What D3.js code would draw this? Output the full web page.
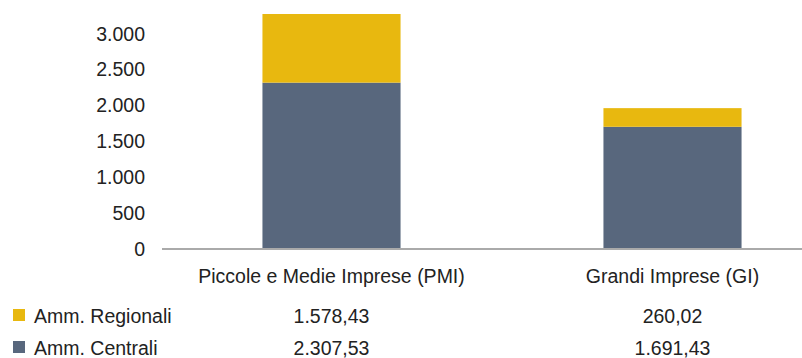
<!DOCTYPE html>
<html>
<head>
<meta charset="utf-8">
<script src="https://cdn.jsdelivr.net/npm/d3@7"></script>
<style>
html, body { margin: 0; padding: 0; background: #fff; }
svg { display: block; font-family: "Liberation Sans", Arial, Helvetica, sans-serif; }
</style>
</head>
<body>
<svg id="chart" width="802" height="358"></svg>
<script>
const categories = ["Piccole e Medie Imprese (PMI)", "Grandi Imprese (GI)"];
const seriesNames = ["Amm. Centrali", "Amm. Regionali"];
const ammCentrali = [2307.53, 1691.43];
const ammRegionali = [1578.43, 260.02];
const ammCentraliLabels = ["2.307,53", "1.691,43"];
const ammRegionaliLabels = ["1.578,43", "260,02"];
const yTicks = [0, 500, 1000, 1500, 2000, 2500, 3000];
const colors = { "Amm. Centrali": "#58677d", "Amm. Regionali": "#e8b80f" };

const svg = d3.select("#chart");
const textColor = "#222";
const fontSize = 19.5;

const x = d3.scaleBand().domain(categories).range([161, 843])
  .paddingInner(0.595).paddingOuter(0.2975);
const y = d3.scaleLinear().domain([0, 3000]).range([248, 33]);
const plotTop = 14;

const fmt = v => d3.format(",.0f")(v).replace(/,/g, ".");

// clip path for plot area
svg.append("defs").append("clipPath").attr("id", "plotclip")
  .append("rect").attr("x", 0).attr("y", plotTop).attr("width", 802).attr("height", 248 - plotTop);

const rows = categories.map((c, i) => ({ cat: c, "Amm. Centrali": ammCentrali[i], "Amm. Regionali": ammRegionali[i] }));
const stack = d3.stack().keys(seriesNames)(rows);

const gBars = svg.append("g").attr("clip-path", "url(#plotclip)");
gBars.selectAll("g.series").data(stack).join("g")
  .attr("class", "series")
  .attr("fill", d => colors[d.key])
  .selectAll("rect").data(d => d).join("rect")
  .attr("x", d => x(d.data.cat))
  .attr("width", x.bandwidth())
  .attr("y", d => y(d[1]))
  .attr("height", d => y(d[0]) - y(d[1]));

// y axis labels
const yAxis = d3.axisLeft(y).tickValues(yTicks).tickFormat(fmt).tickSize(0).tickPadding(0);
const gy = svg.append("g").attr("transform", "translate(145,0)").call(yAxis);
gy.select(".domain").remove();
gy.selectAll("text").attr("font-size", fontSize).attr("fill", textColor)
  .attr("font-family", "'Liberation Sans', Arial, sans-serif").attr("dy", "0.36em");

// x axis
const xAxis = d3.axisBottom(x).tickSize(0).tickPadding(0);
const gx = svg.append("g").attr("transform", "translate(0,249)").call(xAxis);
gx.select(".domain").attr("stroke", "#aaaaaa").attr("stroke-width", 2)
  .attr("d", "M162,0H802");
gx.selectAll("text").attr("font-size", fontSize).attr("fill", textColor)
  .attr("font-family", "'Liberation Sans', Arial, sans-serif")
  .attr("y", 34).attr("dy", 0);

// data table legend
const tableRows = [
  { name: "Amm. Regionali", labels: ammRegionaliLabels, base: 323 },
  { name: "Amm. Centrali", labels: ammCentraliLabels, base: 355 }
];
const gt = svg.append("g");
tableRows.forEach(r => {
  gt.append("rect").attr("x", 13).attr("y", r.base - 14).attr("width", 12).attr("height", 12)
    .attr("fill", colors[r.name]);
  gt.append("text").attr("x", 34).attr("y", r.base).attr("font-size", fontSize)
    .attr("fill", textColor).text(r.name);
  categories.forEach((c, i) => {
    gt.append("text").attr("x", x(c) + x.bandwidth() / 2).attr("y", r.base)
      .attr("text-anchor", "middle").attr("font-size", fontSize).attr("fill", textColor)
      .text(r.labels[i]);
  });
});
</script>
</body>
</html>
